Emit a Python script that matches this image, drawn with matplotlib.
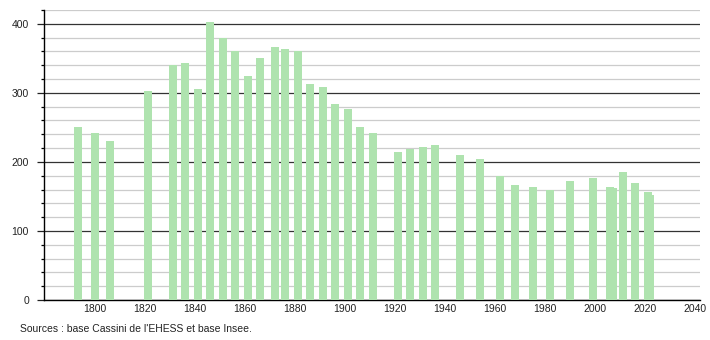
import matplotlib.pyplot as plt
from matplotlib.ticker import MultipleLocator

plt.rcParams['font.family'] = ['Liberation Sans', 'DejaVu Sans']

# années de recensement et population
years = [1793, 1800, 1806, 1821, 1831, 1836, 1841, 1846, 1851, 1856,
         1861, 1866, 1872, 1876, 1881, 1886, 1891, 1896, 1901, 1906,
         1911, 1921, 1926, 1931, 1936, 1946, 1954, 1962, 1968, 1975,
         1982, 1990, 1999, 2006, 2007, 2011, 2016, 2021, 2022]
population = [251, 242, 231, 303, 340, 343, 306, 402, 380, 360,
              324, 351, 366, 363, 360, 313, 309, 284, 276, 251,
              242, 215, 219, 222, 224, 210, 204, 180, 166, 163,
              160, 172, 176, 164, 162, 185, 170, 156, 152]
x_ticks = [1800, 1820, 1840, 1860, 1880, 1900, 1920, 1940, 1960, 1980, 2000, 2020, 2040]
y_ticks = [0, 100, 200, 300, 400]
source = "Sources : base Cassini de l'EHESS et base Insee."

fig = plt.figure(figsize=(7.1, 3.4), dpi=100)
ax = fig.add_axes([0.0624, 0.1176, 0.9236, 0.853])

ax.bar(years, population, width=3.2, color='#afe3af', zorder=3)

ax.set_xlim(1779.6, 2042)
ax.set_ylim(0, 420)

# grille : fine tous les 20, foncée tous les 100
ax.yaxis.set_minor_locator(MultipleLocator(20))
ax.set_yticks(y_ticks)
ax.grid(axis='y', which='minor', color='#cccccc', lw=0.9, zorder=1)
ax.grid(axis='y', which='major', color='#333333', lw=0.9, zorder=2)

ax.set_xticks(x_ticks)
ax.tick_params(axis='x', length=0, pad=3, labelsize=7.5, colors='#222222')
ax.tick_params(axis='y', which='major', length=5, width=0.9, pad=6, labelsize=7.5, colors='#222222')
ax.tick_params(axis='y', which='minor', length=2.5, width=0.9)

for side in ['top', 'right']:
    ax.spines[side].set_visible(False)
ax.spines['left'].set_linewidth(1.0)
ax.spines['bottom'].set_linewidth(1.0)

fig.text(0.028, 0.032, source, fontsize=7.5, color='#222222', va='center')

fig.savefig('out.png', dpi=100)
